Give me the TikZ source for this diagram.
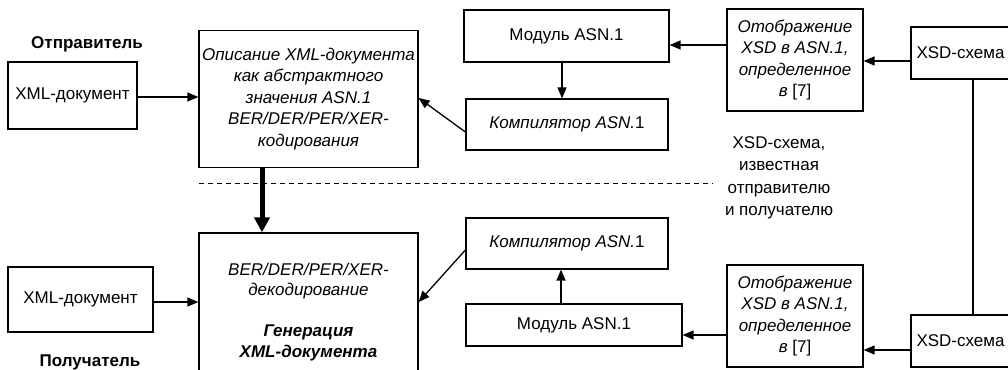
\documentclass[tikz,border=0pt]{standalone}
\usepackage{fontspec}
\setmainfont{Liberation Sans}
\usetikzlibrary{arrows.meta}
\begin{document}
\begin{tikzpicture}[x=1pt,y=-1pt,
  box/.style={draw,line width=1.2pt,inner sep=0pt,align=center,font=\fontsize{17}{21.5}\selectfont},
  ibox/.style={box,font=\fontsize{17}{21.5}\selectfont\itshape},
  lbl/.style={inner sep=0pt,align=center,font=\fontsize{17}{22.5}\selectfont},
  blbl/.style={inner sep=0pt,font=\fontsize{17}{21.5}\selectfont\bfseries},
  arr/.style={line width=1.3pt,-{Triangle[length=11pt,width=9pt]}},
  thickarr/.style={line width=5pt,-{Triangle[length=15pt,width=15pt]}},
  plain/.style={line width=1.3pt},
  dashline/.style={line width=1pt,dash pattern=on 5pt off 4pt}]
\useasboundingbox (0,0) rectangle (1008,369);
\fill[white] (0,0) rectangle (1008,369);
\clip (0,0) rectangle (1008,369);

% labels
\node[blbl] (sender) at (87,44) {Отправитель};
\node[blbl] (receiver) at (90,362) {Получатель};
\node[lbl] (known) at (779,178) {XSD-схема,\\известная\\отправителю\\и получателю};

% top row
\node[box,minimum width=129pt,minimum height=67pt] (xmlT) at (72.5,95.5) {XML-документ};
\node[ibox,minimum width=219pt,minimum height=137pt] (bigT) at (308.5,99) {Описание XML-документа\\как абстрактного\\значения ASN.1\\BER/DER/PER/XER-\\кодирования};
\node[box,minimum width=205pt,minimum height=52pt] (modT) at (566.5,36) {Модуль ASN.1};
\node[box,minimum width=202pt,minimum height=51pt] (kompT) at (567,124.5) {\textit{Компилятор ASN.}1};
\node[ibox,minimum width=136pt,minimum height=102pt] (otoT) at (795,60) {Отображение\\XSD в ASN.1,\\определенное\\в \textup{[7]}};
\node[box,minimum width=99pt,minimum height=52pt] (xsdT) at (960.5,53) {XSD-схема};

% bottom row
\node[box,minimum width=145pt,minimum height=65pt] (xmlB) at (80.5,299.5) {XML-документ};
\node[box,font=\fontsize{17}{20.5}\selectfont\itshape,minimum width=219pt,minimum height=158pt] (bigB) at (308.5,312) {BER/DER/PER/XER-\\декодирование\\[20.5pt]\textbf{Генерация}\\\textbf{XML-документа}};
\node[box,minimum width=202pt,minimum height=51pt] (kompB) at (567,243.5) {\textit{Компилятор ASN.}1};
\node[box,minimum width=216pt,minimum height=42pt] (modB) at (574,325) {Модуль ASN.1};
\node[ibox,minimum width=136pt,minimum height=102pt] (otoB) at (795,316) {Отображение\\XSD в ASN.1,\\определенное\\в \textup{[7]}};
\node[box,minimum width=99pt,minimum height=52pt] (xsdB) at (960.5,341) {XSD-схема};

% dashed separator
\coordinate (d1) at (199,183);
\coordinate (d2) at (713,183);
\draw[dashline] (d1) -- (d2);

% connectors, top
\draw[arr] ([yshift=-1.5pt]xmlT.east) coordinate (a1) -- (a1 -| bigT.west);
\draw[arr] ([yshift=15pt]otoT.west) coordinate (a2) -- (a2 -| modT.east);
\draw[arr] ([yshift=-8pt]xsdT.west) coordinate (a3) -- (a3 -| otoT.east);
\draw[arr] ([xshift=-4.5pt]modT.south) coordinate (a4) -- (a4 |- kompT.north);
\draw[arr] ([yshift=-7.5pt]kompT.west) -- ([yshift=1pt]bigT.east);
\draw[thickarr] ([xshift=-46.5pt]bigT.south) coordinate (a6) -- (a6 |- bigB.north);

% connectors, bottom
\draw[arr] ([yshift=-2.5pt]xmlB.east) coordinate (a7) -- (a7 -| bigB.west);
\draw[arr] ([yshift=-6.5pt]kompB.west) -- ([yshift=10pt]bigB.east);
\draw[arr] ([xshift=-13pt]modB.north) coordinate (a9) -- (a9 |- kompB.south);
\draw[arr] ([yshift=-19pt]otoB.west) coordinate (a10) -- (a10 -| modB.east);
\draw[arr] ([yshift=-9pt]xsdB.west) coordinate (a11) -- (a11 -| otoB.east);
\draw[plain] ([xshift=12.5pt]xsdT.south) coordinate (a12) -- (a12 |- xsdB.north);
\end{tikzpicture}
\end{document}
